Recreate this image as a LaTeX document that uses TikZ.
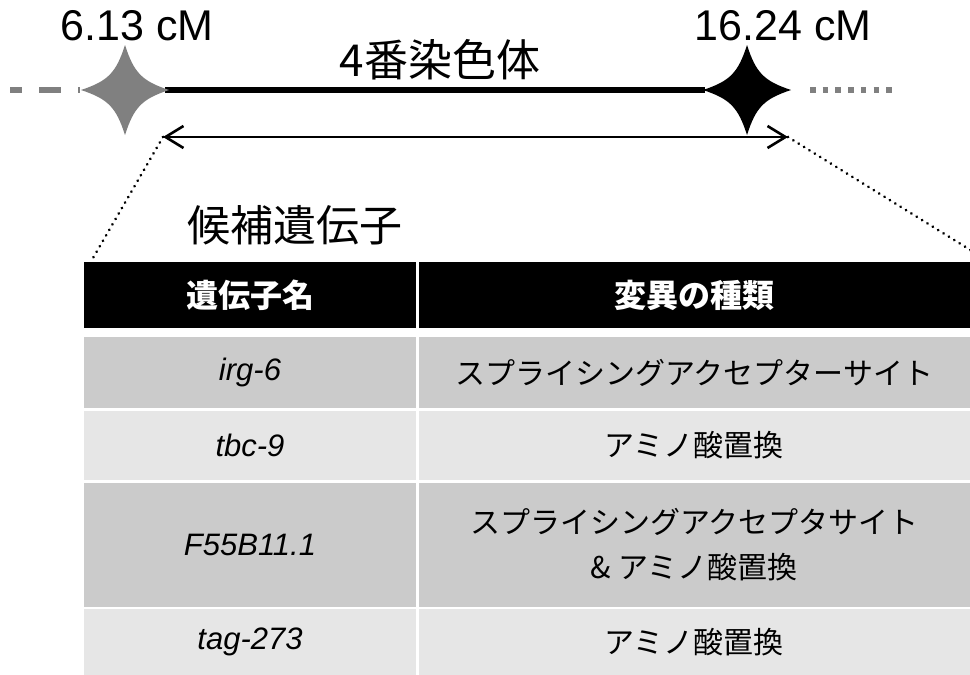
\documentclass[tikz,border=0pt]{standalone}
\usepackage{fontspec}
\setmainfont{Liberation Sans}
\newfontfamily\jp{Noto Sans CJK JP}
\usetikzlibrary{arrows.meta}
\definecolor{rowdark}{HTML}{CBCBCB}
\definecolor{rowlight}{HTML}{E6E6E6}
\definecolor{markgray}{HTML}{808080}
\begin{document}
\begin{tikzpicture}[x=1pt,y=-1pt,
  cell/.style={draw=none, inner sep=0pt, outer sep=0pt, anchor=center, align=center},
  hdr/.style={cell, fill=black, text=white, font=\jp\bfseries\fontsize{32}{38}\selectfont},
  genecell/.style={cell, minimum width=332pt, font=\itshape\fontsize{31}{37}\selectfont},
  mutcell/.style={cell, minimum width=551.5pt, font=\jp\fontsize{30}{45}\selectfont},
  cmlabel/.style={anchor=base, inner sep=0pt, font=\fontsize{43}{50}\selectfont},
  bigjp/.style={inner sep=0pt, font=\jp\fontsize{44}{50}\selectfont},
  chrom/.style={line width=5.5pt},
  dotline/.style={line width=3pt, line cap=round, dash pattern=on 0.01pt off 6.3pt},
  span/.style={line width=2pt, {Straight Barb[length=18pt,width=22pt,line width=2.6pt]}-{Straight Barb[length=18pt,width=22pt,line width=2.6pt]}},
  sparkle/.pic={\path[pic actions] (0,-45) .. controls (9,-17) and (17,-9) .. (44,0)
      .. controls (17,9) and (9,17) .. (0,45)
      .. controls (-9,17) and (-17,9) .. (-44,0)
      .. controls (-17,-9) and (-9,-17) .. (0,-45) -- cycle;}
]
\useasboundingbox (0,0) rectangle (970,675);

% chromosome
\coordinate (dashA) at (10,90);
\coordinate (dashB) at (80,90);
\coordinate (lineA) at (165,90);
\coordinate (lineB) at (705,90);
\coordinate (dotA) at (810,90);
\coordinate (dotB) at (898,90);
\draw[chrom, markgray, dash pattern=on 22pt off 17pt, dash phase=10pt] (dashA) -- (dashB);
\draw[chrom, black] (lineA) -- (lineB);
\draw[line width=5.3pt, markgray, dash pattern=on 5.5pt off 7.2pt] (dotA) -- (dotB);
\pic[fill=markgray] at (125,90) {sparkle};
\pic[fill=black] at (747,90) {sparkle};

% labels
\node[cmlabel] (cmL) at (137,40) {6.13 cM};
\node[cmlabel] (cmR) at (783,40) {16.24 cM};
\node[bigjp] (title) at (440,60) {4番染色体};
\node[bigjp, font=\jp\fontsize{43}{50}\selectfont] (cand) at (295,225) {候補遺伝子};

% span arrow and zoom lines
\coordinate (aL) at (163,137);
\coordinate (aR) at (788,137);
\coordinate (zL) at (93,258);
\coordinate (zR) at (972,251);
\draw[span] (aL) -- (aR);
\draw[dotline] (aL) -- (zL);
\draw[dotline] (aR) -- (zR);

% table
\node[hdr, minimum width=332pt, minimum height=66pt] (h1) at (250,295) {遺伝子名};
\node[hdr, minimum width=551.5pt, minimum height=66pt] (h2) at (694.25,295) {変異の種類};

\node[genecell, fill=rowdark, minimum height=71pt] (g1) at (250,372.5) {irg-6};
\node[mutcell, fill=rowdark, minimum height=71pt] (m1) at (694.25,372.5) {スプライシングアクセプターサイト};

\node[genecell, fill=rowlight, minimum height=69pt] (g2) at (250,445.5) {tbc-9};
\node[mutcell, fill=rowlight, minimum height=69pt] (m2) at (694.25,445.5) {アミノ酸置換};

\node[genecell, fill=rowdark, minimum height=124pt] (g3) at (250,545) {F55B11.1};
\node[mutcell, fill=rowdark, minimum height=124pt] (m3) at (694.25,545) {スプライシングアクセプタサイト\\\& アミノ酸置換};

\node[genecell, fill=rowlight, minimum height=66pt] (g4) at (250,642) {tag-273};
\node[mutcell, fill=rowlight, minimum height=66pt] (m4) at (694.25,642) {アミノ酸置換};
\end{tikzpicture}
\end{document}
